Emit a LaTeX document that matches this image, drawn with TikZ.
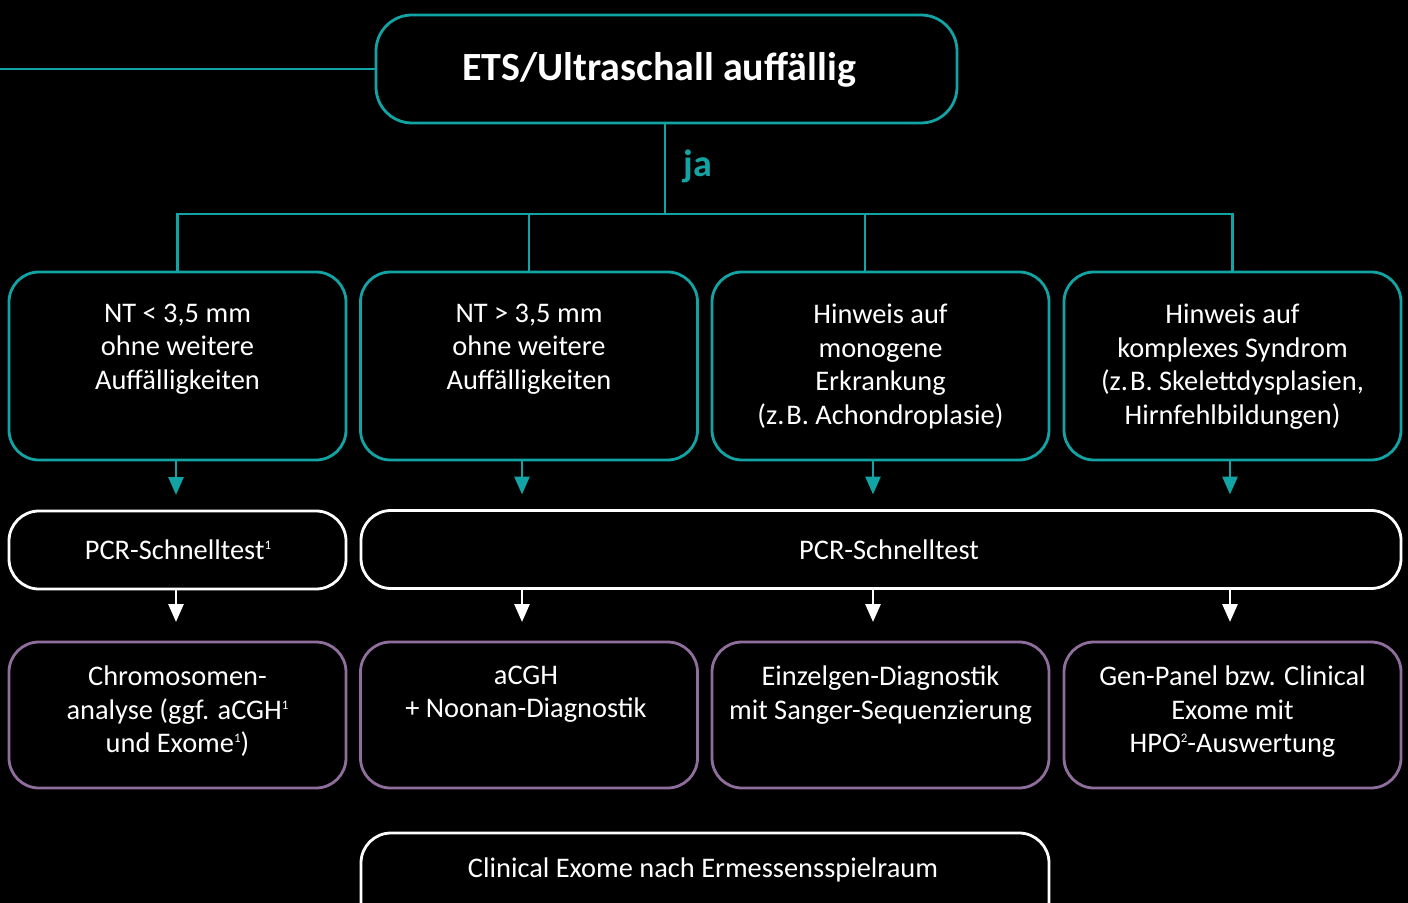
\documentclass[tikz,border=0pt]{standalone}
\usepackage{fontspec}
\setmainfont{Carlito}
\usetikzlibrary{arrows.meta,positioning}
\definecolor{etsteal}{HTML}{12A4A4}
\definecolor{etspurple}{HTML}{8F6E9E}
\newcommand{\fnmark}[1]{\raisebox{0.75ex}{\fontsize{6.5}{7}\selectfont #1}}

\begin{document}
\begin{tikzpicture}[x=0.5pt, y=-0.5pt,
  every node/.style={text=white, inner sep=0pt, outer sep=0pt},
  body/.style={font=\fontsize{14.2}{16.75}\selectfont},
  box/.style={draw, line width=1.4pt, rounded corners=15pt, minimum width=168.5pt},
  findbox/.style={box, draw=etsteal, minimum height=94pt},
  pcrbox/.style={box, draw=white, minimum height=39pt},
  testbox/.style={box, draw=etspurple, minimum height=73pt},
  boxtext/.style={body, align=center, anchor=north, execute at begin node=\strut},
  tealline/.style={draw=etsteal, line width=1.4pt},
  tealarrow/.style={tealline, -{Triangle[length=9pt, width=7.5pt]}, shorten >=8pt},
  whitearrow/.style={draw=white, line width=1.4pt, -{Triangle[length=9pt, width=7.5pt]}, shorten >=10pt}]
\fill[black] (0,0) rectangle (1408,903);
\useasboundingbox (0,0) rectangle (1408,903);
\clip (0,0) rectangle (1408,903);

% top
\node[box, draw=etsteal, rounded corners=18pt, minimum width=290.5pt, minimum height=54pt] (title) at (666.5,69) {};
\node[font=\fontsize{20}{24}\selectfont\bfseries] (ttitle) at (659,70) {ETS/Ultraschall auffällig};
\node[text=etsteal, font=\fontsize{19}{22}\selectfont\bfseries] (ja) at (698,166) {ja};

% findings
\node[findbox] (r1a) at (177.5,366) {};
\node[findbox] (r1b) at (529,366) {};
\node[findbox] (r1c) at (880.5,366) {};
\node[findbox] (r1d) at (1232.5,366) {};
\node[boxtext, below=16pt of r1a.north] (t1a) {NT < 3,5 mm\\ohne weitere\\Auffälligkeiten};
\node[boxtext, below=16pt of r1b.north] (t1b) {NT > 3,5 mm\\ohne weitere\\Auffälligkeiten};
\node[boxtext, below=16pt of r1c.north] (t1c) {Hinweis auf\\monogene\\Erkrankung\\(z.\kern1pt B. Achondroplasie)};
\node[boxtext, below=16pt of r1d.north] (t1d) {Hinweis auf\\komplexes Syndrom\\(z.\kern1pt B. Skelettdysplasien,\\Hirnfehlbildungen)};

% pcr
\node[pcrbox] (pcra) at (177.5,550) {};
\node[pcrbox, minimum width=520pt] (pcrb) at (881,549.5) {};
\node[body] (tpa) at (178,550) {PCR-Schnelltest\fnmark{1}};
\node[body] (tpb) at (889,550) {PCR-Schnelltest};

% tests
\node[testbox] (r3a) at (177.5,715) {};
\node[testbox] (r3b) at (529,715) {};
\node[testbox] (r3c) at (880.5,715) {};
\node[testbox] (r3d) at (1232.5,715) {};
\node[boxtext, below=12pt of r3a.north] (t3a) {Chromosomen-\\analyse (ggf. aCGH\fnmark{1}\\und Exome\fnmark{1})};
\node[boxtext, below=12pt of r3b.north, xshift=-1.5pt] (t3b) {aCGH\\+ Noonan-Diagnostik};
\node[boxtext, below=12pt of r3c.north] (t3c) {Einzelgen-Diagnostik\\mit Sanger-Sequenzierung};
\node[boxtext, below=12pt of r3d.north] (t3d) {Gen-Panel bzw. Clinical\\Exome mit\\HPO\fnmark{2}-Auswertung};

% bottom
\node[box, draw=white, minimum width=344pt, minimum height=50pt] (ce) at (705,883) {};
\node[body] (tce) at (703,870) {Clinical Exome nach Ermessensspielraum};

% connectors
\coordinate (lefte) at (0,69);
\coordinate (split) at (665,214);
\coordinate (d3) at (865,214);
\draw[tealline] (lefte) -- (title.west);
\draw[tealline] (title.south -| split) -- (split);
\draw[tealline] (r1a.north) |- (split) -| (r1d.north);
\draw[tealline] (split) -| (r1b.north);
\draw[tealline] (d3) -- (d3 |- r1c.north);

\coordinate (a1) at (176,0);
\coordinate (a2) at (522,0);
\coordinate (a3) at (873,0);
\coordinate (a4) at (1230,0);
\draw[tealarrow] (a1 |- r1a.south) -- (a1 |- pcra.north);
\draw[tealarrow] (a2 |- r1b.south) -- (a2 |- pcrb.north);
\draw[tealarrow] (a3 |- r1c.south) -- (a3 |- pcrb.north);
\draw[tealarrow] (a4 |- r1d.south) -- (a4 |- pcrb.north);
\draw[whitearrow] (a1 |- pcra.south) -- (a1 |- r3a.north);
\draw[whitearrow] (a2 |- pcrb.south) -- (a2 |- r3b.north);
\draw[whitearrow] (a3 |- pcrb.south) -- (a3 |- r3c.north);
\draw[whitearrow] (a4 |- pcrb.south) -- (a4 |- r3d.north);
\end{tikzpicture}
\end{document}
